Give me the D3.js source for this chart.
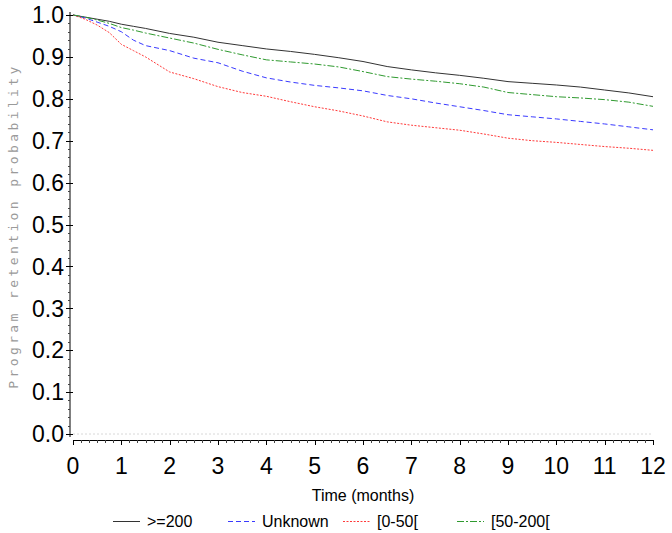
<!DOCTYPE html>
<html>
<head>
<meta charset="utf-8">
<script src="https://cdn.jsdelivr.net/npm/d3@7"></script>
<style>
  html, body { margin: 0; padding: 0; background: #fff; }
  svg { display: block; }
</style>
</head>
<body>
<script>
// ---- data ----
const months = [0, 0.25, 0.5, 0.75, 1, 1.25, 1.5, 2, 2.5, 3, 3.5, 4, 4.5, 5, 5.5, 6, 6.5, 7, 7.5, 8, 8.5, 9, 9.5, 10, 10.5, 11, 11.5, 12];
const seriesNames = [">=200", "Unknown", "[0-50[", "[50-200["];
const ge200   = [1.0, 0.995, 0.990, 0.985, 0.978, 0.973, 0.968, 0.956, 0.947, 0.935, 0.927, 0.919, 0.913, 0.906, 0.898, 0.889, 0.877, 0.869, 0.862, 0.856, 0.849, 0.841, 0.837, 0.833, 0.828, 0.821, 0.814, 0.805];
const unknown = [1.0, 0.993, 0.983, 0.973, 0.960, 0.940, 0.927, 0.915, 0.897, 0.886, 0.866, 0.850, 0.840, 0.832, 0.826, 0.819, 0.808, 0.800, 0.790, 0.781, 0.772, 0.762, 0.757, 0.752, 0.746, 0.740, 0.733, 0.726];
const lt50    = [1.0, 0.990, 0.976, 0.958, 0.930, 0.915, 0.900, 0.864, 0.848, 0.829, 0.815, 0.806, 0.793, 0.781, 0.771, 0.759, 0.745, 0.737, 0.731, 0.725, 0.716, 0.706, 0.700, 0.696, 0.691, 0.686, 0.682, 0.677];
const mid50   = [1.0, 0.995, 0.988, 0.980, 0.970, 0.964, 0.957, 0.945, 0.933, 0.918, 0.905, 0.893, 0.888, 0.883, 0.876, 0.865, 0.853, 0.847, 0.842, 0.836, 0.828, 0.815, 0.810, 0.805, 0.802, 0.798, 0.792, 0.782];
const xTicks = [0, 1, 2, 3, 4, 5, 6, 7, 8, 9, 10, 11, 12];
const yTicks = [0, 0.1, 0.2, 0.3, 0.4, 0.5, 0.6, 0.7, 0.8, 0.9, 1.0];

const W = 672, H = 533;
const svg = d3.select("body").append("svg").attr("width", W).attr("height", H);

const x = d3.scaleLinear().domain([0, 12]).range([73, 653]);
const y = d3.scaleLinear().domain([0, 1]).range([434, 15]);

const font = "Liberation Sans, Arial, sans-serif";

// faint reference line at 0
svg.append("line")
  .attr("x1", x(0)).attr("x2", x(12))
  .attr("y1", y(0)).attr("y2", y(0))
  .attr("stroke", "#d8d8d8").attr("stroke-width", 1)
  .attr("stroke-dasharray", "2,2");

// y axis
const yAxisX = 70;
const gy = svg.append("g").attr("transform", `translate(${yAxisX},0)`);
gy.append("line").attr("x1", 0).attr("x2", 0).attr("y1", y(1) - 3).attr("y2", y(0) + 3)
  .attr("stroke", "#000").attr("stroke-width", 1);
const yMinor = d3.range(0, 1.0001, 0.02);
gy.selectAll("line.ymin").data(yMinor).join("line")
  .attr("x1", -2).attr("x2", 0)
  .attr("y1", d => Math.round(y(d)) + 0.5).attr("y2", d => Math.round(y(d)) + 0.5)
  .attr("stroke", "#444").attr("stroke-width", 1);
gy.selectAll("line.ymaj").data(yTicks).join("line")
  .attr("x1", -4).attr("x2", 3)
  .attr("y1", d => Math.round(y(d)) + 0.5).attr("y2", d => Math.round(y(d)) + 0.5)
  .attr("stroke", "#000").attr("stroke-width", 1);
gy.selectAll("text").data(yTicks).join("text")
  .attr("x", -6).attr("y", d => y(d))
  .attr("dy", "0.36em")
  .attr("text-anchor", "end")
  .attr("font-family", font).attr("font-size", 23)
  .attr("fill", "#000")
  .text(d => d3.format(".1f")(d));

// x axis
const xAxisY = 440;
const gx = svg.append("g").attr("transform", `translate(0,${xAxisY})`);
gx.append("line").attr("x1", x(0)).attr("x2", x(12)).attr("y1", 0.5).attr("y2", 0.5)
  .attr("stroke", "#000").attr("stroke-width", 1);
const xMinor = d3.range(0, 12.0001, 1 / 6);
gx.selectAll("line.xmin").data(xMinor).join("line")
  .attr("x1", d => Math.round(x(d)) + 0.5).attr("x2", d => Math.round(x(d)) + 0.5)
  .attr("y1", 0).attr("y2", 3)
  .attr("stroke", "#444").attr("stroke-width", 1);
gx.selectAll("line.xmaj").data(xTicks).join("line")
  .attr("x1", d => Math.round(x(d)) + 0.5).attr("x2", d => Math.round(x(d)) + 0.5)
  .attr("y1", 0).attr("y2", 5)
  .attr("stroke", "#000").attr("stroke-width", 1);
gx.selectAll("text").data(xTicks).join("text")
  .attr("x", d => x(d)).attr("y", 34)
  .attr("text-anchor", "middle")
  .attr("font-family", font).attr("font-size", 23)
  .attr("fill", "#000")
  .text(d => d);

// axis titles
svg.append("text")
  .attr("x", 363).attr("y", 501)
  .attr("text-anchor", "middle")
  .attr("font-family", font).attr("font-size", 16)
  .attr("fill", "#000")
  .text("Time (months)");

svg.append("text")
  .attr("transform", "translate(18,226) rotate(-90)")
  .attr("text-anchor", "middle")
  .attr("font-family", "DejaVu Sans Mono, monospace").attr("font-size", 13)
  .attr("letter-spacing", "3.4px")
  .attr("fill", "#9a9a9a")
  .text("Program retention probability");

// series
const series = [
  { name: seriesNames[0], values: ge200,   color: "#333333", dash: null },
  { name: seriesNames[1], values: unknown, color: "#3a3aff", dash: "5,3" },
  { name: seriesNames[2], values: lt50,    color: "#ff3a3a", dash: "2,1.5" },
  { name: seriesNames[3], values: mid50,   color: "#2f9a2f", dash: "7,2,2,2" }
];

const line = d3.line()
  .x((d, i) => x(months[i]))
  .y(d => y(d));

svg.selectAll("path.series").data(series).join("path")
  .attr("class", "series")
  .attr("d", d => line(d.values))
  .attr("fill", "none")
  .attr("stroke", d => d.color)
  .attr("stroke-width", 1)
  .attr("stroke-dasharray", d => d.dash);

// legend
const legendX = [113, 228, 343, 457];
const lg = svg.append("g");
series.forEach((s, i) => {
  lg.append("line")
    .attr("x1", legendX[i]).attr("x2", legendX[i] + 27)
    .attr("y1", 521.5).attr("y2", 521.5)
    .attr("stroke", s.color).attr("stroke-width", 1)
    .attr("stroke-dasharray", s.dash);
  lg.append("text")
    .attr("x", legendX[i] + 34).attr("y", 527)
    .attr("font-family", font).attr("font-size", 16)
    .attr("fill", "#000")
    .text(s.name);
});
</script>
</body>
</html>
